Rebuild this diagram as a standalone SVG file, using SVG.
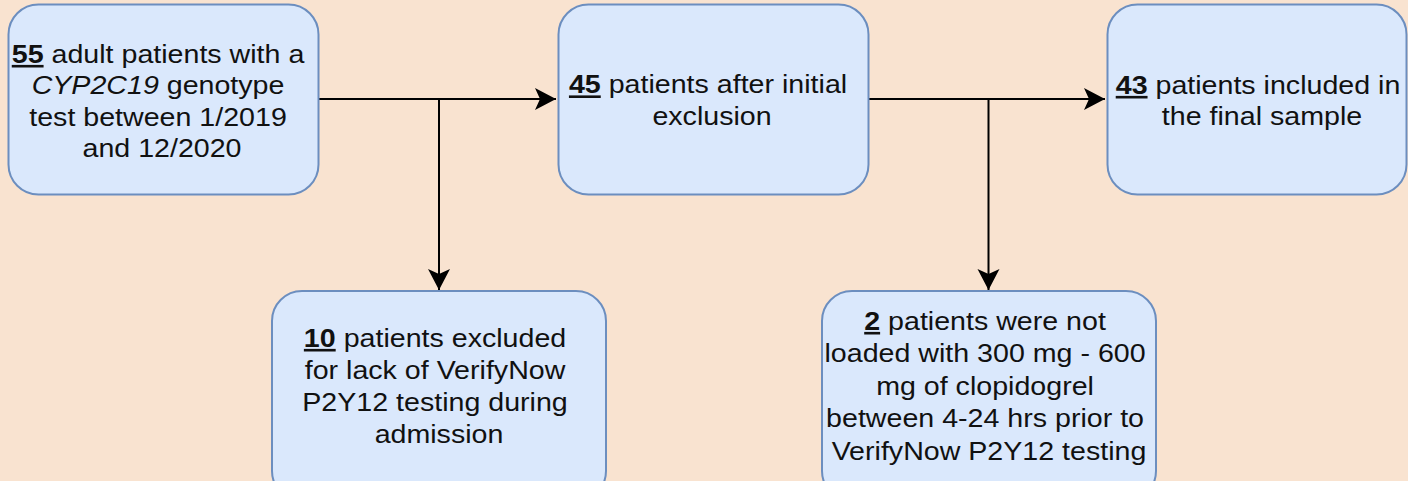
<svg xmlns="http://www.w3.org/2000/svg" width="1408" height="481" viewBox="0 0 1408 481">
<defs>
<style>
.box{fill:#dae8fc;stroke:#6c8ebf;stroke-width:2}
.t{font-family:"Liberation Sans",Arial,Helvetica,sans-serif;font-size:26px;fill:#111;text-anchor:middle}
.n{font-weight:bold;text-decoration:underline}
.i{font-style:italic}
.c{fill:none;stroke:#000;stroke-width:2}
</style>
<marker id="arr" markerWidth="22" markerHeight="24" refX="21" refY="12" orient="auto" markerUnits="userSpaceOnUse">
<path d="M0,1 L21,12 L0,23 L5,12 Z" fill="#000"/>
</marker>
</defs>
<rect width="1408" height="481" fill="#f9e3d0"/>
<g id="connectors">
<path class="c" d="M319,99 H556" marker-end="url(#arr)"/>
<path class="c" d="M439,99 V290" marker-end="url(#arr)"/>
<path class="c" d="M869,99 H1105" marker-end="url(#arr)"/>
<path class="c" d="M988.5,99 V290" marker-end="url(#arr)"/>
</g>
<g id="node1">
<rect class="box" x="8.5" y="4.5" width="310" height="190" rx="30"/>
<text class="t" transform="translate(162 0) scale(1.1 1)">
<tspan x="0" y="63"><tspan class="n">55</tspan> adult patients with a</tspan>
<tspan x="0" y="94.5"><tspan class="i">CYP2C19</tspan> genotype</tspan>
<tspan x="0" y="126">test between 1/2019</tspan>
<tspan x="0" y="157.5">and 12/2020</tspan>
</text>
</g>
<g id="node2">
<rect class="box" x="558.5" y="4.5" width="310" height="190" rx="30"/>
<text class="t" transform="translate(712 0) scale(1.1 1)">
<tspan x="0" y="93.5"><tspan class="n">45</tspan> patients after initial</tspan>
<tspan x="0" y="125">exclusion</tspan>
</text>
</g>
<g id="node3">
<rect class="box" x="1107.5" y="4.5" width="299" height="190" rx="30"/>
<text class="t" transform="translate(1262 0) scale(1.1 1)">
<tspan x="0" y="94"><tspan class="n">43</tspan> patients included in</tspan>
<tspan x="0" y="125.5">the final sample</tspan>
</text>
</g>
<g id="node4">
<rect class="box" x="272" y="291" width="334" height="210" rx="30"/>
<text class="t" transform="translate(439 0) scale(1.1 1)">
<tspan x="0" y="347"><tspan class="n">10</tspan> patients excluded</tspan>
<tspan x="0" y="379">for lack of VerifyNow</tspan>
<tspan x="0" y="411">P2Y12 testing during</tspan>
<tspan x="0" y="443">admission</tspan>
</text>
</g>
<g id="node5">
<rect class="box" x="822" y="291" width="334" height="210" rx="30"/>
<text class="t" transform="translate(989 0) scale(1.1 1)">
<tspan x="0" y="330"><tspan class="n">2</tspan> patients were not</tspan>
<tspan x="0" y="362.5">loaded with 300 mg - 600</tspan>
<tspan x="0" y="395">mg of clopidogrel</tspan>
<tspan x="0" y="427.5">between 4-24 hrs prior to</tspan>
<tspan x="0" y="460">VerifyNow P2Y12 testing</tspan>
</text>
</g>
</svg>
